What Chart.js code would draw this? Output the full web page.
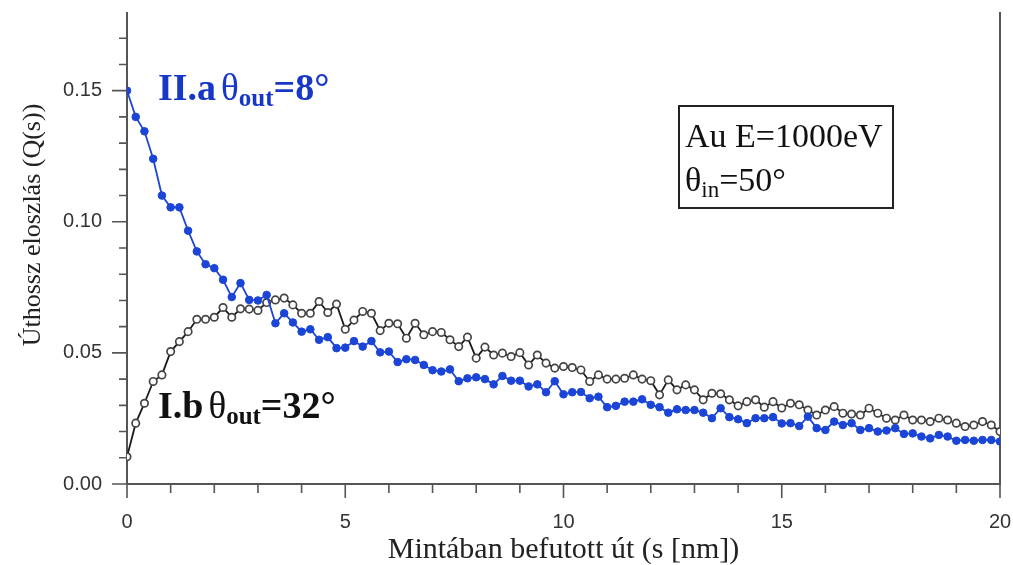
<!DOCTYPE html>
<html>
<head>
<meta charset="utf-8">
<script src="https://cdn.jsdelivr.net/npm/chart.js@4.4.1/dist/chart.umd.min.js"></script>
<style>
  html, body { margin: 0; padding: 0; background: #fff; }
  #wrap { width: 1013px; height: 565px; }
</style>
</head>
<body>
<div id="wrap"><canvas id="c" width="1013" height="565"></canvas></div>
<script>
// Path length s [nm] (sampling grid)
const pathLength = [
  0.0,0.2,0.4,0.6,0.8,1.0,1.2,1.4,1.6,1.8,2.0,2.2,2.4,2.6,2.8,3.0,3.2,3.4,3.6,3.8,
  4.0,4.2,4.4,4.6,4.8,5.0,5.2,5.4,5.6,5.8,6.0,6.2,6.4,6.6,6.8,7.0,7.2,7.4,7.6,7.8,
  8.0,8.2,8.4,8.6,8.8,9.0,9.2,9.4,9.6,9.8,10.0,10.2,10.4,10.6,10.8,11.0,11.2,11.4,11.6,11.8,
  12.0,12.2,12.4,12.6,12.8,13.0,13.2,13.4,13.6,13.8,14.0,14.2,14.4,14.6,14.8,15.0,15.2,15.4,15.6,15.8,
  16.0,16.2,16.4,16.6,16.8,17.0,17.2,17.4,17.6,17.8,18.0,18.2,18.4,18.6,18.8,19.0,19.2,19.4,19.6,19.8,20.0
];

// II.a  theta_out = 8°
const seriesIIa = [
  0.1500,0.1400,0.1345,0.1240,0.1100,0.1055,0.1055,0.0966,0.0887,0.0838,
  0.0823,0.0779,0.0713,0.0766,0.0702,0.0700,0.0721,0.0613,0.0651,0.0616,
  0.0581,0.0590,0.0550,0.0560,0.0518,0.0520,0.0545,0.0524,0.0545,0.0502,
  0.0505,0.0465,0.0476,0.0473,0.0454,0.0434,0.0429,0.0437,0.0392,0.0403,
  0.0407,0.0400,0.0380,0.0412,0.0394,0.0394,0.0372,0.0380,0.0350,0.0392,
  0.0342,0.0350,0.0351,0.0327,0.0333,0.0293,0.0298,0.0314,0.0314,0.0323,
  0.0302,0.0293,0.0272,0.0285,0.0282,0.0282,0.0272,0.0251,0.0289,0.0255,
  0.0247,0.0232,0.0251,0.0251,0.0255,0.0231,0.0232,0.0221,0.0257,0.0213,
  0.0206,0.0238,0.0225,0.0232,0.0206,0.0213,0.0200,0.0204,0.0213,0.0191,
  0.0193,0.0181,0.0174,0.0187,0.0181,0.0165,0.0168,0.0165,0.0168,0.0168,
  0.0162
];

// I.b  theta_out = 32°
const seriesIb = [
  0.0104,0.0232,0.0308,0.0391,0.0416,0.0505,0.0543,0.0581,0.0628,0.0628,
  0.0636,0.0673,0.0636,0.0668,0.0667,0.0662,0.0692,0.0702,0.0709,0.0683,
  0.0651,0.0651,0.0696,0.0654,0.0686,0.0590,0.0625,0.0658,0.0651,0.0585,
  0.0613,0.0611,0.0556,0.0613,0.0569,0.0581,0.0578,0.0550,0.0524,0.0560,
  0.0480,0.0522,0.0492,0.0499,0.0486,0.0501,0.0454,0.0492,0.0461,0.0442,
  0.0448,0.0444,0.0435,0.0391,0.0416,0.0400,0.0400,0.0403,0.0416,0.0400,
  0.0394,0.0340,0.0397,0.0359,0.0378,0.0359,0.0321,0.0346,0.0344,0.0321,
  0.0298,0.0314,0.0321,0.0293,0.0314,0.0290,0.0308,0.0302,0.0282,0.0263,
  0.0282,0.0295,0.0270,0.0267,0.0263,0.0289,0.0270,0.0251,0.0244,0.0263,
  0.0244,0.0244,0.0238,0.0251,0.0244,0.0232,0.0219,0.0225,0.0238,0.0225,
  0.0200
];

const xMajorTicks = [0, 5, 10, 15, 20];
const xMinorTicks = [1,2,3,4,6,7,8,9,11,12,13,14,16,17,18,19];
const yMajorTicks = [0.00, 0.05, 0.10, 0.15];
const yMinorTicks = [0.01,0.02,0.03,0.04,0.06,0.07,0.08,0.09,0.11,0.12,0.13,0.14,0.16,0.17];

const BLUE = '#1b45d6';
const BLUE_TEXT = '#1737c6';
const AXIS = '#555';
const SERIF = '"Liberation Serif", "Times New Roman", serif';
const SANS = '"Liberation Sans", Arial, sans-serif';

const framePlugin = {
  id: 'frame',
  beforeDatasetsDraw(chart) {
    const {ctx, chartArea: a, scales: {x, y}} = chart;
    ctx.save();
    ctx.strokeStyle = AXIS;
    ctx.lineWidth = 2;
    ctx.beginPath();
    ctx.moveTo(a.left, a.top); ctx.lineTo(a.left, a.bottom); ctx.lineTo(a.right, a.bottom); ctx.lineTo(a.right, a.top);
    ctx.stroke();
    ctx.lineWidth = 1.6;
    ctx.beginPath();
    yMajorTicks.forEach(v => { const p = y.getPixelForValue(v); ctx.moveTo(a.left - 15, p); ctx.lineTo(a.left, p); });
    yMinorTicks.forEach(v => { const p = y.getPixelForValue(v); ctx.moveTo(a.left - 8, p); ctx.lineTo(a.left, p); });
    xMajorTicks.forEach(v => { const p = x.getPixelForValue(v); ctx.moveTo(p, a.bottom); ctx.lineTo(p, a.bottom + 14); });
    xMinorTicks.forEach(v => { const p = x.getPixelForValue(v); ctx.moveTo(p, a.bottom); ctx.lineTo(p, a.bottom + 9); });
    ctx.stroke();
    ctx.restore();
  }
};

function drawRich(ctx, x, y, parts) {
  let cx = x;
  parts.forEach(p => {
    ctx.font = p.font;
    ctx.fillStyle = p.color;
    ctx.fillText(p.t, cx, y + (p.dy || 0));
    cx += ctx.measureText(p.t).width + (p.gap || 0);
  });
}

const annotPlugin = {
  id: 'annot',
  afterDraw(chart) {
    const {ctx} = chart;
    ctx.save();
    ctx.textBaseline = 'alphabetic';
    ctx.textAlign = 'left';
    // y-axis title
    ctx.save();
    ctx.translate(33, 225);
    ctx.rotate(-Math.PI / 2);
    ctx.textAlign = 'center';
    ctx.textBaseline = 'middle';
    ctx.font = '26px ' + SERIF;
    ctx.fillStyle = '#222';
    ctx.fillText('Úthossz eloszlás (Q(s))', 0, 0);
    ctx.restore();

    const big = 'bold 38px ' + SERIF;
    const theta = '37px ' + SERIF;
    const sub = 'bold 25px ' + SERIF;
    drawRich(ctx, 158, 100, [
      {t: 'II.a', font: big, color: BLUE_TEXT, gap: 5},
      {t: 'θ', font: theta, color: BLUE_TEXT},
      {t: 'out', font: sub, color: BLUE_TEXT, dy: 6},
      {t: '=8°', font: big, color: BLUE_TEXT}
    ]);
    drawRich(ctx, 158, 418, [
      {t: 'I.b', font: big, color: '#111', gap: 5},
      {t: 'θ', font: theta, color: '#111'},
      {t: 'out', font: sub, color: '#111', dy: 6},
      {t: '=32°', font: big, color: '#111'}
    ]);

    // info box
    ctx.strokeStyle = '#222';
    ctx.lineWidth = 2;
    ctx.strokeRect(679, 106, 214, 102);
    const reg = '34px ' + SERIF;
    drawRich(ctx, 685, 147, [{t: 'Au E=1000eV', font: reg, color: '#111'}]);
    drawRich(ctx, 685, 191, [
      {t: 'θ', font: reg, color: '#111'},
      {t: 'in', font: '23px ' + SERIF, color: '#111', dy: 6},
      {t: '=50°', font: reg, color: '#111'}
    ]);
    ctx.restore();
  }
};

function zeroPadding(s) {
  s.paddingLeft = 0; s.paddingRight = 0; s.paddingTop = 0; s.paddingBottom = 0;
}

const ctx = document.getElementById('c').getContext('2d');
new Chart(ctx, {
  type: 'line',
  data: {
    datasets: [
      {
        label: 'II.a θout=8°',
        data: pathLength.map((s, i) => ({x: s, y: seriesIIa[i]})),
        borderColor: BLUE,
        backgroundColor: BLUE,
        pointBackgroundColor: BLUE,
        pointBorderColor: BLUE,
        pointBorderWidth: 1,
        pointRadius: 3.8,
        borderWidth: 1.8,
        tension: 0
      },
      {
        label: 'I.b θout=32°',
        data: pathLength.map((s, i) => ({x: s, y: seriesIb[i]})),
        borderColor: '#1a1a1a',
        backgroundColor: '#fff',
        pointBackgroundColor: '#fff',
        pointBorderColor: '#444',
        pointBorderWidth: 1.7,
        pointRadius: 3.7,
        borderWidth: 1.8,
        tension: 0
      }
    ]
  },
  options: {
    responsive: false,
    animation: false,
    events: [],
    layout: {padding: {top: 12, right: 13, left: 0, bottom: 0}},
    plugins: {legend: {display: false}, tooltip: {enabled: false}},
    scales: {
      x: {
        type: 'linear',
        min: 0, max: 20,
        grid: {display: false, drawTicks: false},
        border: {display: false},
        ticks: {
          stepSize: 5, autoSkip: false, maxRotation: 0, padding: 26,
          color: '#333', font: {family: SANS, size: 20},
          callback: v => (xMajorTicks.includes(v) ? String(v) : '')
        },
        title: {
          display: true,
          text: 'Mintában befutott út (s [nm])',
          color: '#222',
          font: {family: SERIF, size: 30, lineHeight: 1},
          padding: {top: 0, bottom: 0}
        },
        afterFit(s) { s.height = 81; zeroPadding(s); }
      },
      y: {
        type: 'linear',
        min: 0, max: 0.18,
        grid: {display: false, drawTicks: false},
        border: {display: false},
        ticks: {
          stepSize: 0.05, autoSkip: false, padding: 25,
          color: '#333', font: {family: SANS, size: 20},
          callback: v => {
            const r = Math.round(v / 0.05);
            return Math.abs(v - r * 0.05) < 1e-9 && r <= 3 ? (r * 0.05).toFixed(2) : '';
          }
        },
        afterFit(s) { s.width = 127; zeroPadding(s); }
      }
    }
  },
  plugins: [framePlugin, annotPlugin]
});
</script>
</body>
</html>
